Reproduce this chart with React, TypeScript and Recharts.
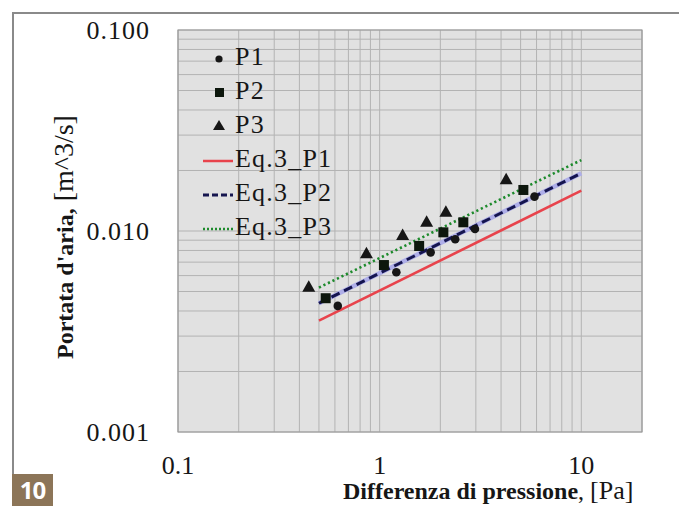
import React from 'react';
import {
  ComposedChart,
  XAxis,
  YAxis,
  CartesianGrid,
  Scatter,
  Line,
  Legend,
  ReferenceArea,
} from 'recharts';

// ---------- data ----------
const xGridTicks = [
  0.1, 0.2, 0.3, 0.4, 0.5, 0.6, 0.7, 0.8, 0.9,
  1, 2, 3, 4, 5, 6, 7, 8, 9, 10,
];
const yGridTicks = [
  0.001, 0.002, 0.003, 0.004, 0.005, 0.006, 0.007, 0.008, 0.009,
  0.01, 0.02, 0.03, 0.04, 0.05, 0.06, 0.07, 0.08, 0.09, 0.1,
];
const xMajor = [0.1, 1, 10];
const xMajorLabels = ['0.1', '1', '10'];
const yMajor = [0.001, 0.01, 0.1];
const yMajorLabels = ['0.001', '0.010', '0.100'];

const p1 = [
  { x: 0.62, y: 0.00424 },
  { x: 1.21, y: 0.00623 },
  { x: 1.79, y: 0.00783 },
  { x: 2.37, y: 0.0091 },
  { x: 2.97, y: 0.01023 },
  { x: 5.86, y: 0.01482 },
];
const p2 = [
  { x: 0.54, y: 0.00463 },
  { x: 1.05, y: 0.00677 },
  { x: 1.57, y: 0.00842 },
  { x: 2.07, y: 0.00985 },
  { x: 2.6, y: 0.01105 },
  { x: 5.16, y: 0.016 },
];
const p3 = [
  { x: 0.445, y: 0.00528 },
  { x: 0.86, y: 0.00774 },
  { x: 1.3, y: 0.00955 },
  { x: 1.71, y: 0.01113 },
  { x: 2.13, y: 0.01247 },
  { x: 4.24, y: 0.01808 },
];
const eqP1 = [
  { x: 0.5, y: 0.00358 },
  { x: 10, y: 0.01587 },
];
const eqP2 = [
  { x: 0.5, y: 0.00437 },
  { x: 10, y: 0.01937 },
];
const eqP3 = [
  { x: 0.5, y: 0.00523 },
  { x: 10, y: 0.02254 },
];

const seriesNames = ['P1', 'P2', 'P3', 'Eq.3_P1', 'Eq.3_P2', 'Eq.3_P3'];

// ---------- styles ----------
const SERIF = '"Liberation Serif", "Times New Roman", serif';
const INK = '#161616';
const RED = '#e8434c';
const NAVY = '#15154f';
const LAVENDER = '#aeaee8';
const GREEN = '#1d8a2c';

const near = (a: number, b: number) => Math.abs(a - b) < 1e-9;

const XTick = (props: any) => {
  const { x, y, payload } = props;
  const i = xMajor.findIndex((v) => near(v, payload.value));
  if (i < 0) return <g />;
  return (
    <text x={x} y={y} dy="0.35em" textAnchor="middle" fontFamily={SERIF} fontSize={26} fill={INK}>
      {xMajorLabels[i]}
    </text>
  );
};

const YTick = (props: any) => {
  const { x, y, payload } = props;
  const i = yMajor.findIndex((v) => near(v, payload.value));
  if (i < 0) return <g />;
  return (
    <text x={x} y={y} dy="0.35em" textAnchor="end" fontFamily={SERIF} fontSize={26} letterSpacing={1} fill={INK}>
      {yMajorLabels[i]}
    </text>
  );
};

const XLabel = (props: any) => {
  const vb = props.viewBox || { x: 0, y: 0, width: 0, height: 0 };
  return (
    <text x={vb.x + 165} y={vb.y + 67} textAnchor="start" fontFamily={SERIF} fill={INK}>
      <tspan fontWeight="bold" fontSize={24}>Differenza di pressione</tspan>
      <tspan fontSize={24}>, </tspan>
      <tspan fontSize={26}>[Pa]</tspan>
    </text>
  );
};

const YLabel = (props: any) => {
  const vb = props.viewBox || { x: 0, y: 0, width: 0, height: 0 };
  const cx = vb.x + 65;
  const cy = vb.y + vb.height / 2 + 6;
  return (
    <text
      x={cx}
      y={cy}
      textAnchor="middle"
      transform={`rotate(-90, ${cx}, ${cy})`}
      fontFamily={SERIF}
      fill={INK}
    >
      <tspan fontWeight="bold" fontSize={24}>Portata d'aria,</tspan>
      <tspan fontSize={28}> [m^3/s]</tspan>
    </text>
  );
};

const Circle = (props: any) => <circle cx={props.cx} cy={props.cy} r={4.3} fill={INK} />;
const Square = (props: any) => (
  <rect x={props.cx - 5} y={props.cy - 5} width={10} height={10} fill="#0d170d" />
);
const Triangle = (props: any) => (
  <polygon
    points={`${props.cx},${props.cy - 6.5} ${props.cx - 6.5},${props.cy + 5} ${props.cx + 6.5},${props.cy + 5}`}
    fill={INK}
  />
);

const LegendSymbol = ({ name }: { name: string }) => {
  if (name === 'P1')
    return (
      <svg width={32} height={20}>
        <circle cx={16} cy={12} r={3.6} fill={INK} />
      </svg>
    );
  if (name === 'P2')
    return (
      <svg width={32} height={20}>
        <rect x={12} y={7} width={9} height={9} fill="#0d170d" />
      </svg>
    );
  if (name === 'P3')
    return (
      <svg width={32} height={20}>
        <polygon points="16,5 10,15 22,15" fill={INK} />
      </svg>
    );
  if (name === 'Eq.3_P1')
    return (
      <svg width={32} height={20}>
        <line x1={0} y1={12} x2={30} y2={12} stroke={RED} strokeWidth={2.5} />
      </svg>
    );
  if (name === 'Eq.3_P2')
    return (
      <svg width={32} height={20}>
        <line x1={0} y1={12} x2={30} y2={12} stroke={NAVY} strokeWidth={3} strokeDasharray="6 3" />
      </svg>
    );
  return (
    <svg width={32} height={20}>
      <line x1={0} y1={12} x2={30} y2={12} stroke={GREEN} strokeWidth={2.5} strokeDasharray="2 2" />
    </svg>
  );
};

const LegendContent = (props: any) => {
  const items = (props.payload || [])
    .filter((p: any) => seriesNames.includes(p.value))
    .sort((a: any, b: any) => seriesNames.indexOf(a.value) - seriesNames.indexOf(b.value));
  return (
    <div style={{ fontFamily: SERIF, fontSize: 26, color: INK }}>
      {items.map((it: any) => (
        <div key={it.value} style={{ display: 'flex', alignItems: 'center', height: 34, lineHeight: '34px' }}>
          <LegendSymbol name={it.value} />
          <span style={{ letterSpacing: 1.2, whiteSpace: 'nowrap' }}>{it.value}</span>
        </div>
      ))}
    </div>
  );
};

export default function App() {
  return (
    <div style={{ position: 'relative', width: 679, height: 498, overflow: 'hidden', background: '#fff' }}>
      <div style={{ position: 'absolute', left: 4, top: 4, width: 675, height: 1.5, background: '#8a8a8a' }} />
      <div style={{ position: 'absolute', left: 4, top: 4, width: 1.5, height: 462, background: '#8a8a8a' }} />
      <div
        style={{
          position: 'absolute',
          left: 4,
          top: 466,
          width: 41,
          height: 32,
          background: '#8c7558',
        }}
      />
      <div
        style={{
          position: 'absolute',
          left: 4,
          top: 469,
          width: 41,
          height: 26,
          color: '#fff',
          fontFamily: '"Open Sans", "DejaVu Sans", sans-serif',
          fontWeight: 700,
          fontSize: 24,
          lineHeight: '26px',
          textAlign: 'center',
          letterSpacing: -1,
        }}
      >
        10
      </div>
      <div style={{ position: 'absolute', left: 0, top: 0 }}>
        <ComposedChart width={679} height={498} margin={{ top: 22, right: 45, bottom: 0, left: 0 }}>
          <CartesianGrid stroke="#b3b3b3" strokeWidth={1} fill="#e1e1e1" fillOpacity={1} />
          <XAxis
            type="number"
            dataKey="x"
            scale="log"
            domain={[0.1, 20]}
            allowDataOverflow
            ticks={xGridTicks}
            interval={0}
            tickSize={0}
            tickMargin={33}
            axisLine={false}
            tickLine={false}
            tick={<XTick />}
            height={74}
            label={<XLabel />}
          />
          <YAxis
            type="number"
            dataKey="y"
            scale="log"
            domain={[0.001, 0.1]}
            allowDataOverflow
            ticks={yGridTicks}
            interval={0}
            tickSize={0}
            tickMargin={28}
            axisLine={false}
            tickLine={false}
            tick={<YTick />}
            width={170}
            label={<YLabel />}
          />
          <ReferenceArea x1={0.1} x2={20} y1={0.001} y2={0.1} fill="none" stroke="#9a9a9a" strokeWidth={1.2} />
          <Line
            data={eqP1}
            dataKey="y"
            name="Eq.3_P1"
            stroke={RED}
            strokeWidth={2.6}
            dot={false}
            legendType="line"
            isAnimationActive={false}
          />
          <Line
            data={eqP2}
            dataKey="y"
            name="Eq.3_P2 underlay"
            stroke={LAVENDER}
            strokeWidth={4.5}
            dot={false}
            legendType="none"
            isAnimationActive={false}
          />
          <Line
            data={eqP2}
            dataKey="y"
            name="Eq.3_P2"
            stroke={NAVY}
            strokeWidth={3}
            strokeDasharray="9 5"
            dot={false}
            legendType="line"
            isAnimationActive={false}
          />
          <Line
            data={eqP3}
            dataKey="y"
            name="Eq.3_P3"
            stroke={GREEN}
            strokeWidth={2.6}
            strokeDasharray="2.2 2.8"
            dot={false}
            legendType="line"
            isAnimationActive={false}
          />
          <Scatter data={p1} name="P1" shape={<Circle />} legendType="circle" isAnimationActive={false} />
          <Scatter data={p2} name="P2" shape={<Square />} legendType="square" isAnimationActive={false} />
          <Scatter data={p3} name="P3" shape={<Triangle />} legendType="triangle" isAnimationActive={false} />
          <Legend
            layout="vertical"
            align="center"
            verticalAlign="middle"
            content={<LegendContent />}
            wrapperStyle={{ left: 195, top: 32, width: 'auto', height: 'auto' }}
          />
        </ComposedChart>
      </div>
    </div>
  );
}
